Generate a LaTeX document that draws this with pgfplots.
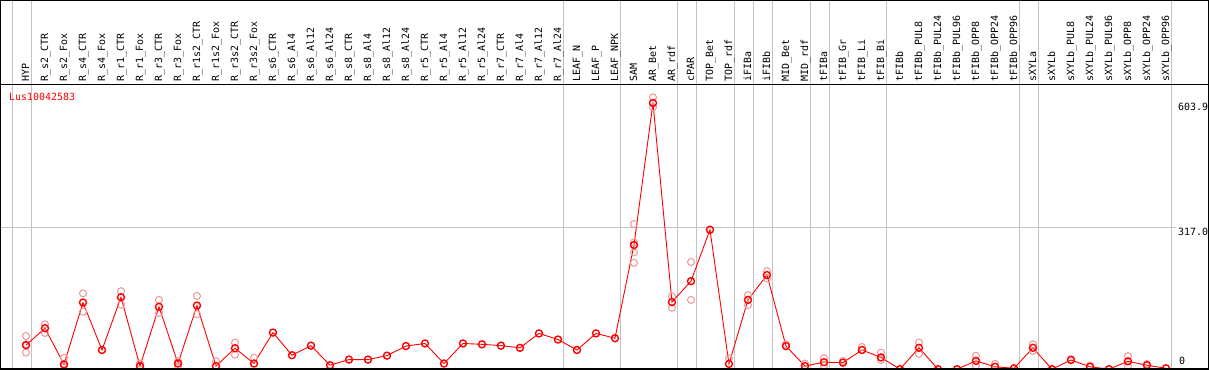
\documentclass[border=0pt]{standalone}
\usepackage{pgfplots}
\pgfplotsset{compat=1.18}
\usepackage{fontspec}
\setmainfont{DejaVu Sans Mono}
\definecolor{rep}{RGB}{236,150,150}
\definecolor{gridc}{RGB}{195,195,195}
\pgfplotstableread{
x v
0 48
1 87
2 4
3 146
4 37
5 158
6 0
7 136
8 6
9 139
10 0
11 41
12 6
13 77
14 25
15 47
16 2
17 15
18 15
19 24
20 46
21 52
22 6
23 52
24 50
25 47
26 42
27 75
28 61
29 37
30 75
31 64
32 278
33 603.9
34 147
35 195
36 313
37 5
38 152
39 209
40 46
41 0
42 9
43 8
44 37
45 20
46 -7
47 42
48 -7
49 -7
50 12
51 -1.5
52 -5
53 42
54 -7
55 14
56 -1.5
57 -7
58 11
59 2
60 -5
}\meantab
\pgfplotstableread{
x v
0 69
0 50
0 31
1 96
1 76
2 19
2 0
3 167
3 125
5 172
5 141
6 6
7 152
7 122
8 11
8 0
9 161
9 119
10 11
11 54
11 26
12 19
32 326
32 284
32 261
32 237
33 617
33 594
34 160
34 134
35 239
35 152
37 18
38 163
38 140
39 218
39 201
40 50
41 6
42 18
42 1
43 12
44 44
45 31
45 14
47 54
47 28
50 24
50 1
51 5
53 50
53 35
55 16
56 1
58 23
58 0
59 5
}\reptab
\begin{document}
\fontsize{10}{12}\selectfont
\begin{tikzpicture}
\useasboundingbox (0,0) rectangle (1209bp,370bp);
\begin{scope}[x=1bp,y=-1bp,yshift=370bp]
  \foreach \i in {-1,0,28,31,34,35,37,38,39,41,42,45,52,53,60}
    \draw[gridc, line width=1bp] ({26+19*\i+5},0) -- ({26+19*\i+5},369);
  \draw[gridc, line width=1bp] (1,228) -- (1176,228);
\end{scope}
\begin{axis}[at={(0,0)}, anchor=south west, scale only axis,
  width=1209bp, height=370bp,
  xmin=-1.36842, xmax=62.26316, ymin=-8.93, ymax=840.3,
  hide axis]
\addplot[only marks, mark=o, mark size=3.5bp, draw=rep, line width=1bp] table[x=x,y=v] {\reptab};
\addplot[red, line width=0.9bp, mark=o, mark size=3.5bp, mark options={line width=1.4bp}] table[x=x,y=v] {\meantab};
\end{axis}
\begin{scope}[x=1bp,y=-1bp,yshift=370bp]
  \draw[black, line width=1bp] (0.5,0.5) rectangle (1208.5,369);
  \draw[black, line width=1bp] (0,85) -- (1209,85);
  \draw[black, line width=2bp] (0,369) -- (1209,369);
  \foreach \i/\t in {0/HYP,1/R\_s2\_CTR,2/R\_s2\_Fox,3/R\_s4\_CTR,4/R\_s4\_Fox,5/R\_r1\_CTR,6/R\_r1\_Fox,7/R\_r3\_CTR,8/R\_r3\_Fox,9/R\_r1s2\_CTR,10/R\_r1s2\_Fox,11/R\_r3s2\_CTR,12/R\_r3s2\_Fox,13/R\_s6\_CTR,14/R\_s6\_Al4,15/R\_s6\_Al12,16/R\_s6\_Al24,17/R\_s8\_CTR,18/R\_s8\_Al4,19/R\_s8\_Al12,20/R\_s8\_Al24,21/R\_r5\_CTR,22/R\_r5\_Al4,23/R\_r5\_Al12,24/R\_r5\_Al24,25/R\_r7\_CTR,26/R\_r7\_Al4,27/R\_r7\_Al12,28/R\_r7\_Al24,29/LEAF\_N,30/LEAF\_P,31/LEAF\_NPK,32/SAM,33/AR\_Bet,34/AR\_rdf,35/cPAR,36/TOP\_Bet,37/TOP\_rdf,38/iFIBa,39/iFIBb,40/MID\_Bet,41/MID\_rdf,42/tFIBa,43/tFIB\_Gr,44/tFIB\_Li,45/tFIB\_Bi,46/tFIBb,47/tFIBb\_PUL8,48/tFIBb\_PUL24,49/tFIBb\_PUL96,50/tFIBb\_OPP8,51/tFIBb\_OPP24,52/tFIBb\_OPP96,53/sXYLa,54/sXYLb,55/sXYLb\_PUL8,56/sXYLb\_PUL24,57/sXYLb\_PUL96,58/sXYLb\_OPP8,59/sXYLb\_OPP24,60/sXYLb\_OPP96}
    \node[rotate=90, anchor=base west, inner sep=0pt] at ({26+19*\i+3},82) {\t};
  \node[anchor=base west, inner sep=0pt, red] at (9,101) {Lus10042583};
  \node[anchor=base west, inner sep=0pt] at (1178,111) {603.9};
  \node[anchor=base west, inner sep=0pt] at (1178,236) {317.0};
  \node[anchor=base west, inner sep=0pt] at (1179,365) {0};
\end{scope}
\end{tikzpicture}
\end{document}
